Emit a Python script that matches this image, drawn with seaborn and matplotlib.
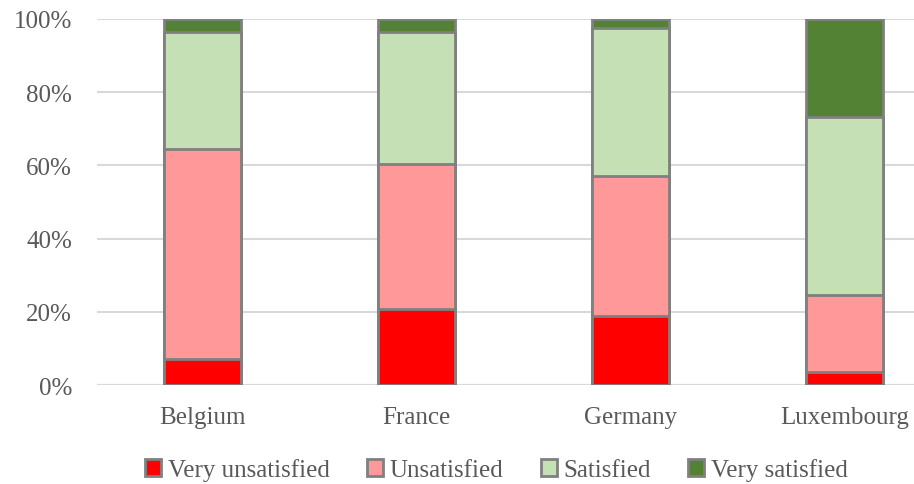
import matplotlib
matplotlib.use("Agg")
import matplotlib.pyplot as plt
from matplotlib.patches import Patch
from matplotlib.ticker import PercentFormatter
import numpy as np
import pandas as pd
import seaborn as sns

countries = ["Belgium", "France", "Germany", "Luxembourg"]
levels = ["Very unsatisfied", "Unsatisfied", "Satisfied", "Very satisfied"]
very_unsatisfied = [7.2, 20.7, 18.9, 3.5]
unsatisfied = [57.2, 39.8, 38.2, 21.2]
satisfied = [32.0, 35.9, 40.5, 48.6]
very_satisfied = [3.6, 3.6, 2.4, 26.7]
y_ticks = [0, 20, 40, 60, 80, 100]

colors = ["#FF0000", "#FF9999", "#C5E0B4", "#548235"]
edge = "#808080"
text_color = "#595959"

df = pd.DataFrame({
    "country": countries,
    levels[0]: very_unsatisfied,
    levels[1]: unsatisfied,
    levels[2]: satisfied,
    levels[3]: very_satisfied,
})
# cumulative tops of each stacked segment
cum = df[levels].cumsum(axis=1)

sns.set_style("white")
plt.rcParams["font.family"] = ["Liberation Serif", "DejaVu Serif"]

fig = plt.figure(figsize=(9.14, 4.85), dpi=100)
ax = fig.add_axes([0.106, 0.204, 0.894, 0.755])

# draw from the top segment down so each lower layer covers the one above it
for lvl, col in reversed(list(zip(levels, colors))):
    sns.barplot(x=df["country"], y=cum[lvl], color=col, width=0.36,
                edgecolor=edge, linewidth=2, saturation=1, ax=ax, zorder=3)

ax.set_ylim(0, 100)
ax.set_xlim(-0.493, 3.325)
ax.set_yticks(y_ticks)
ax.yaxis.set_major_formatter(PercentFormatter(decimals=0))
ax.yaxis.grid(True, color="#D9D9D9", linewidth=1.5, zorder=0)
ax.set_axisbelow(True)
for s in ax.spines.values():
    s.set_visible(False)
ax.axhline(0, color="#D9D9D9", linewidth=1.5, zorder=1)
ax.set_xlabel("")
ax.set_ylabel("")
ax.tick_params(axis="both", length=0, labelsize=18, colors=text_color)
ax.tick_params(axis="x", pad=15)
ax.tick_params(axis="y", pad=18)

handles = [Patch(facecolor=c, edgecolor=edge, linewidth=2, label=l)
           for c, l in zip(colors, levels)]
fig.legend(handles=handles, loc="center", bbox_to_anchor=(0.543, 0.03), ncol=4,
           frameon=False, fontsize=18, handlelength=0.65, handleheight=0.65,
           handletextpad=0.25, columnspacing=1.5, labelcolor=text_color)

fig.savefig("out.png", dpi=100)
